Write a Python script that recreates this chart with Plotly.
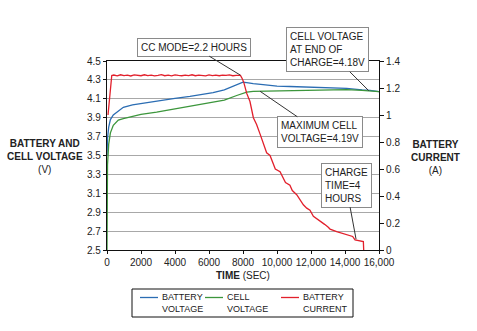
import plotly.graph_objects as go

# ---- data ----
t_volt = [0, 30, 100, 200, 370, 570, 665, 960, 1500, 2000, 2920, 4000, 4880, 5600, 6240,
          6900, 7630, 8000, 8220, 8600, 9180, 10000, 10760, 11160, 12000, 13000, 14100,
          15000, 15470, 16000]
battery_voltage = [3.50, 3.68, 3.80, 3.88, 3.93, 3.96, 3.975, 4.01, 4.035, 4.05, 4.075, 4.105,
                   4.125, 4.145, 4.165, 4.195, 4.245, 4.275, 4.272, 4.26, 4.25, 4.235, 4.23,
                   4.228, 4.222, 4.215, 4.21, 4.195, 4.19, 4.175]
cell_voltage = [2.50, 3.40, 3.62, 3.74, 3.82, 3.86, 3.875, 3.89, 3.915, 3.935, 3.96, 3.995,
                4.02, 4.04, 4.06, 4.085, 4.135, 4.16, 4.17, 4.178, 4.18, 4.183, 4.185, 4.188,
                4.19, 4.195, 4.198, 4.19, 4.18, 4.175]

t_curr = [60, 120, 200, 280, 400, 600, 800, 1000, 1200, 1400, 1600, 1800, 2000, 2200, 2400,
          2600, 2800, 3000, 3200, 3400, 3600, 3800, 4000, 4200, 4400, 4600, 4800, 5000,
          5200, 5400, 5600, 5800, 6000, 6200, 6400, 6600, 6800, 7000, 7200, 7400, 7600,
          7850, 7950, 8050, 8220, 8410, 8610, 8800, 9000, 9200, 9390, 9590, 9780, 9900,
          10180, 10370, 10500, 10760, 10900, 11160, 11350, 11550, 11750, 11940, 12140,
          12500, 12800, 13000, 13120, 13510, 14000, 14290, 14450, 14590, 14900, 15080, 15100]
battery_current = [1.00, 1.08, 1.20, 1.293, 1.296, 1.290, 1.298, 1.292, 1.295, 1.289, 1.297,
                   1.293, 1.291, 1.298, 1.292, 1.296, 1.290, 1.294, 1.299, 1.291, 1.295,
                   1.290, 1.297, 1.293, 1.291, 1.296, 1.292, 1.298, 1.291, 1.295, 1.293,
                   1.290, 1.297, 1.292, 1.296, 1.291, 1.295, 1.293, 1.297, 1.291, 1.294,
                   1.293, 1.27, 1.24, 1.16, 1.10, 0.98, 0.93, 0.86, 0.78, 0.72, 0.70, 0.63,
                   0.60, 0.58, 0.53, 0.50, 0.48, 0.44, 0.41, 0.37, 0.335, 0.31, 0.295, 0.25,
                   0.22, 0.19, 0.17, 0.155, 0.136, 0.12, 0.11, 0.10, 0.075, 0.07, 0.062, 0.0]

volt_ticks = [2.5, 2.7, 2.9, 3.1, 3.3, 3.5, 3.7, 3.9, 4.1, 4.3, 4.5]
time_ticks = [0, 2000, 4000, 6000, 8000, 10000, 12000, 14000, 16000]
time_labels = ["0", "2000", "4000", "6000", "8000", "10,000", "12,000", "14,000", "16,000"]

series_names = ["BATTERY<br>VOLTAGE", "CELL<br>VOLTAGE", "BATTERY<br>CURRENT"]
series_colors = ["#2b6db3", "#3c963c", "#e2202c"]

FONT = "Liberation Sans, Arial, sans-serif"
TXT = "#222222"
W, H = 477, 331
ML, MR, MT, MB = 107, 98, 61, 81
PW, PH = W - ML - MR, H - MT - MB


def px(xp):
    return (xp - ML) / PW


def py(yp):
    return (H - MB - yp) / PH


fig = go.Figure()
fig.add_trace(go.Scatter(x=t_volt, y=battery_voltage, mode="lines", name=series_names[0],
                         line=dict(color=series_colors[0], width=1.3)))
fig.add_trace(go.Scatter(x=t_volt, y=cell_voltage, mode="lines", name=series_names[1],
                         line=dict(color=series_colors[1], width=1.3)))
fig.add_trace(go.Scatter(x=t_curr, y=battery_current, mode="lines", name=series_names[2],
                         yaxis="y2", line=dict(color=series_colors[2], width=1.3)))

fig.update_layout(
    width=W, height=H,
    margin=dict(l=ML, r=MR, t=MT, b=MB),
    paper_bgcolor="white", plot_bgcolor="white",
    font=dict(family=FONT, size=10, color=TXT),
    showlegend=False,
    xaxis=dict(range=[0, 16000], tickvals=time_ticks, ticktext=time_labels,
               showgrid=False, zeroline=False, showline=True, linecolor="#111", linewidth=1.2,
               mirror=True, ticks="outside", ticklen=3, tickcolor="#111",
               tickfont=dict(size=10, color=TXT)),
    yaxis=dict(range=[2.5, 4.5], tickvals=volt_ticks, ticktext=[f"{v:.1f}" for v in volt_ticks],
               showgrid=True, gridcolor="#a8a8a8", gridwidth=1, zeroline=False,
               showline=True, linecolor="#111", linewidth=1.2, ticks="outside", ticklen=3,
               tickcolor="#111", tickfont=dict(size=10, color=TXT)),
    yaxis2=dict(range=[0, 1.4], dtick=0.2, tick0=0, overlaying="y", side="right",
                showgrid=False, zeroline=False, showline=True, linecolor="#111", linewidth=1.2,
                ticks="outside", ticklen=4, tickcolor="#111", tickfont=dict(size=10, color=TXT)),
)


def callout(x, y, text, ax, ay, yref="y", align="left"):
    fig.add_annotation(x=x, y=y, xref="x", yref=yref, text=text, showarrow=True,
                       arrowhead=0, arrowwidth=1, arrowcolor="#333", ax=ax, ay=ay,
                       bgcolor="white", bordercolor="#8a8a8a", borderwidth=1, borderpad=3,
                       align=align, font=dict(size=10, color=TXT))


callout(7850, 4.35, "CC MODE=2.2 HOURS", -46, -28, align="center")
callout(15400, 4.185, "CELL VOLTAGE<br>AT END OF<br>CHARGE=4.18V", -41, -41)
callout(9000, 4.18, "MAXIMUM CELL<br>VOLTAGE=4.19V", 60, 41)
callout(14650, 0.08, "CHARGE<br>TIME=4<br>HOURS", -10, -54, yref="y2")


def label(xp, yp, text, xanchor="center", align="center", size=10):
    fig.add_annotation(x=px(xp), y=py(yp), xref="paper", yref="paper", showarrow=False,
                       text=text, align=align, xanchor=xanchor, yanchor="middle",
                       font=dict(size=size, color=TXT))


# axis titles
label(45, 156, "<b>BATTERY AND<br>CELL VOLTAGE</b><br>(V)")
label(435, 157, "<b>BATTERY<br>CURRENT</b><br>(A)")
label(243, 275, "<b>TIME</b> (SEC)")

# legend box (drawn manually to match the original layout)
fig.add_shape(type="rect", xref="paper", yref="paper", x0=px(132), x1=px(353),
              y0=py(317), y1=py(289), line=dict(color="#111", width=1), fillcolor="white")
legend_x = [140, 205, 281]
for lx, name, col in zip(legend_x, series_names, series_colors):
    fig.add_shape(type="line", xref="paper", yref="paper", x0=px(lx), x1=px(lx + 18),
                  y0=py(297.5), y1=py(297.5), line=dict(color=col, width=1.3))
    label(lx + 20, 303, name, xanchor="left", align="left", size=9)

fig.write_html("out.html")
